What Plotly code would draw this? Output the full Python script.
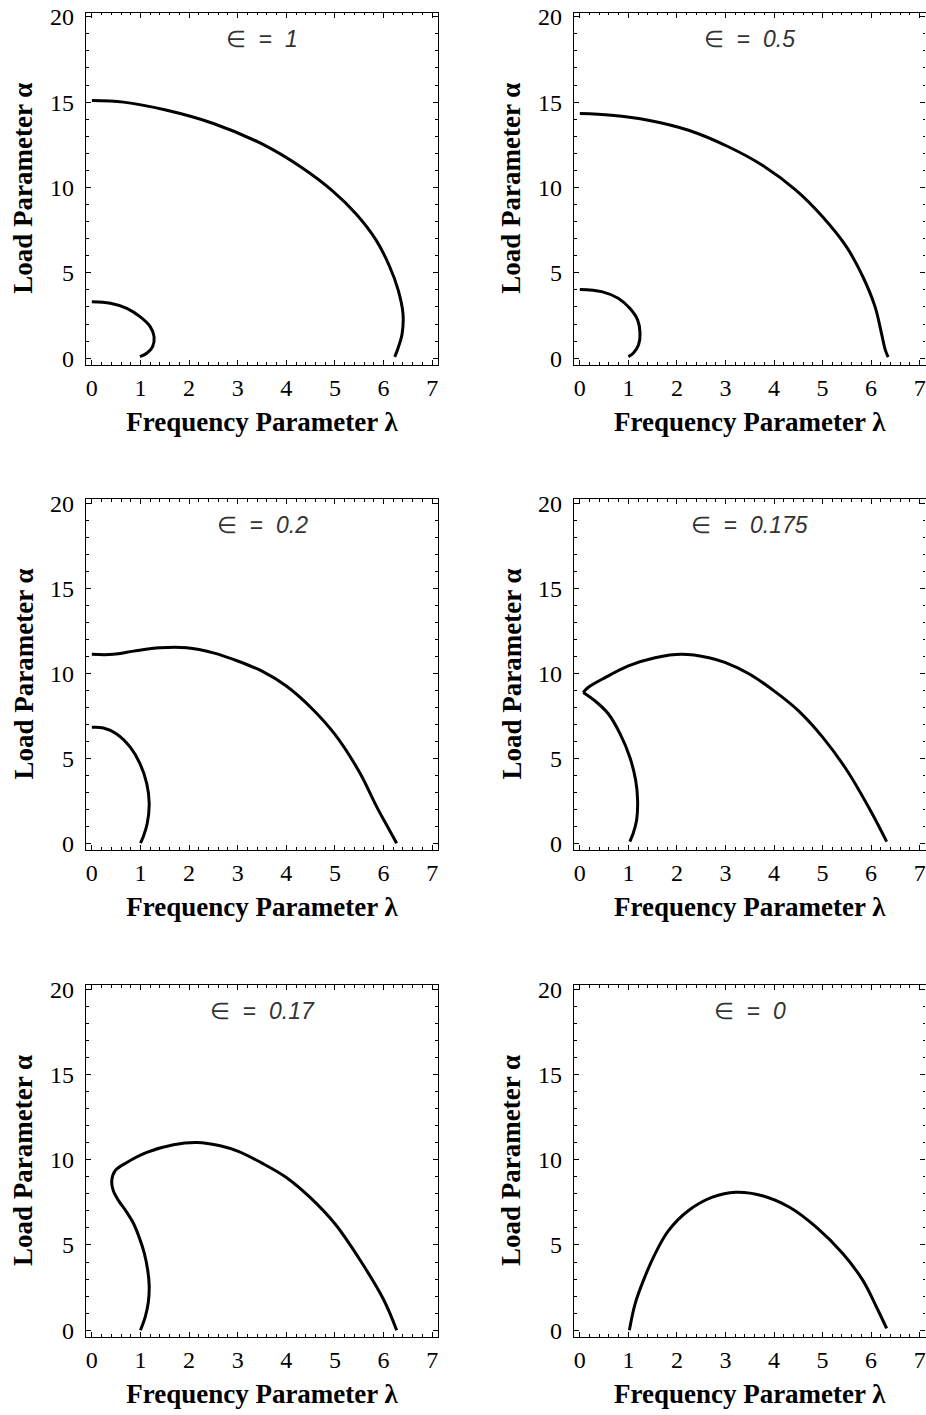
import plotly.graph_objects as go

W, H = 926, 1415

# ---------------- data ----------------
eps_labels = ["1", "0.5", "0.2", "0.175", "0.17", "0"]

# eps = 1
e1_outer_x = [0.0, 0.65, 1.5, 2.5, 3.5, 4.3, 4.95, 5.45, 5.85, 6.12, 6.3, 6.4, 6.38, 6.3, 6.23]
e1_outer_y = [15.1, 15.0, 14.55, 13.75, 12.55, 11.2, 9.8, 8.4, 6.9, 5.4, 4.0, 2.6, 1.4, 0.6, 0.08]
e1_inner_x = [0.0, 0.38, 0.72, 0.99, 1.2, 1.28, 1.25, 1.13, 0.99]
e1_inner_y = [3.31, 3.22, 2.92, 2.43, 1.85, 1.26, 0.68, 0.29, 0.09]

# eps = 0.5
e05_outer_x = [0.0, 0.65, 1.41, 2.24, 3.07, 3.76, 4.45, 5.0, 5.49, 5.83, 6.08, 6.21, 6.29, 6.35]
e05_outer_y = [14.33, 14.23, 13.94, 13.35, 12.37, 11.3, 9.84, 8.28, 6.53, 4.77, 3.02, 1.5, 0.5, 0.06]
e05_inner_x = [0.0, 0.45, 0.79, 1.03, 1.19, 1.24, 1.21, 1.1, 1.0]
e05_inner_y = [4.03, 3.9, 3.51, 2.92, 2.24, 1.46, 0.78, 0.29, 0.09]

# eps = 0.2
e02_outer_x = [0.0, 0.44, 0.86, 1.4, 1.95, 2.5, 3.0, 3.5, 4.0, 4.5, 5.0, 5.5, 5.86, 6.1, 6.27]
e02_outer_y = [11.11, 11.11, 11.3, 11.5, 11.5, 11.2, 10.72, 10.12, 9.25, 8.0, 6.4, 4.2, 2.14, 0.88, 0.0]
e02_inner_x = [0.0, 0.24, 0.51, 0.79, 0.99, 1.13, 1.18, 1.14, 1.06, 1.0]
e02_inner_y = [6.82, 6.78, 6.43, 5.65, 4.68, 3.51, 2.34, 1.17, 0.39, 0.0]

# eps = 0.175 (two branches meeting in a cusp)
e0175_low_x = [0.07, 0.31, 0.59, 0.83, 1.03, 1.15, 1.19, 1.17, 1.1, 1.03]
e0175_low_y = [8.87, 8.38, 7.6, 6.43, 5.06, 3.7, 2.53, 1.36, 0.58, 0.09]
e0175_up_x = [0.07, 0.17, 0.52, 1.0, 1.55, 2.1, 2.66, 3.0, 3.5, 4.0, 4.5, 5.0, 5.5, 6.0, 6.32]
e0175_up_y = [8.87, 9.16, 9.74, 10.43, 10.91, 11.11, 10.91, 10.62, 9.94, 8.96, 7.8, 6.24, 4.29, 1.85, 0.09]

# eps = 0.17
e017_x = [1.0, 1.1, 1.16, 1.18, 1.15, 1.08, 0.98, 0.85, 0.7, 0.55, 0.44, 0.41,
          0.48, 0.72, 1.13, 1.68, 2.16, 2.64, 3.0, 3.5, 4.0, 4.5, 5.0, 5.5, 6.0, 6.27]
e017_y = [0.0, 0.8, 1.6, 2.6, 3.5, 4.5, 5.4, 6.3, 7.0, 7.6, 8.19, 8.77,
          9.36, 9.84, 10.43, 10.88, 11.01, 10.82, 10.5, 9.8, 8.96, 7.76, 6.24, 4.19, 1.8, 0.0]

# eps = 0
e0_x = [1.02, 1.14, 1.31, 1.55, 1.83, 2.24, 2.73, 3.21, 3.76, 4.32, 4.87, 5.42, 5.83, 6.11, 6.32]
e0_y = [0.0, 1.56, 2.92, 4.48, 5.85, 7.02, 7.8, 8.09, 7.89, 7.21, 6.04, 4.48, 2.92, 1.36, 0.1]

x_ticks = [0, 1, 2, 3, 4, 5, 6, 7]
y_ticks = [0, 5, 10, 15, 20]

panels = [
    [(e1_outer_x, e1_outer_y), (e1_inner_x, e1_inner_y)],
    [(e05_outer_x, e05_outer_y), (e05_inner_x, e05_inner_y)],
    [(e02_outer_x, e02_outer_y), (e02_inner_x, e02_inner_y)],
    [(e0175_low_x, e0175_low_y), (e0175_up_x, e0175_up_y)],
    [(e017_x, e017_y)],
    [(e0_x, e0_y)],
]

# ---------------- layout geometry (pixels) ----------------
col_px = [(86, 438), (574, 925.5)]
row_px = [(12.5, 365), (499, 850), (985, 1337)]
ytitle_px = [23, 511]

serif = "Liberation Serif"
tickfont = dict(family=serif, size=24, color="black")
titlefont = dict(family=serif, size=27, color="black")

fig = go.Figure()
layout = {}

for i, branches in enumerate(panels):
    r, c = divmod(i, 2)
    n = "" if i == 0 else str(i + 1)
    xa, ya = "x" + n, "y" + n
    for bx, by in branches:
        fig.add_trace(go.Scatter(x=bx, y=by, mode="lines", xaxis=xa, yaxis=ya,
                                 line=dict(color="black", width=3, shape="spline", smoothing=1.0),
                                 showlegend=False, hoverinfo="skip"))
    x0, x1 = col_px[c]
    t, b = row_px[r]
    common = dict(showline=True, linecolor="black", linewidth=1.3, mirror="allticks",
                  ticks="inside", tickcolor="black", tickwidth=1.2, ticklen=5,
                  showgrid=False, zeroline=False, automargin=False,
                  tickfont=tickfont)
    layout["xaxis" + n] = dict(
        domain=[x0 / W, x1 / W], anchor=ya, range=[-0.12, 7.12],
        tickvals=x_ticks, ticktext=[str(v) for v in x_ticks],
        ticklabelstandoff=1,
        minor=dict(dtick=0.2, tick0=0, ticks="inside", ticklen=2.5, tickcolor="black", tickwidth=1),
        title=dict(text="<b>Frequency Parameter λ</b>", standoff=12, font=titlefont),
        **common)
    layout["yaxis" + n] = dict(
        domain=[1 - b / H, 1 - t / H], anchor=xa, range=[-0.4, 20.25],
        tickvals=y_ticks, ticktext=[str(v) for v in y_ticks],
        ticklabelstandoff=6,
        minor=dict(dtick=1, tick0=0, ticks="inside", ticklen=2.5, tickcolor="black", tickwidth=1),
        **common)
    # y-axis title, placed beside the plot area
    fig.add_annotation(xref="paper", yref=ya + " domain", x=ytitle_px[c] / W, y=0.5,
                       text="<b>Load Parameter α</b>", textangle=-90, showarrow=False,
                       font=titlefont, xanchor="center", yanchor="middle")
    # panel label
    fig.add_annotation(xref=xa + " domain", yref=ya, x=0.5, y=18.7,
                       text="∈ &nbsp;= &nbsp;<i>" + eps_labels[i] + "</i>", showarrow=False,
                       font=dict(family="Liberation Sans", size=23, color="#333"),
                       xanchor="center", yanchor="middle")

fig.update_layout(template="none", width=W, height=H, margin=dict(l=0, r=0, t=0, b=0, autoexpand=False),
                  paper_bgcolor="white", plot_bgcolor="white", **layout)
fig.update_xaxes(tickfont=tickfont)
fig.update_yaxes(tickfont=tickfont)

fig.write_html("out.html", config={"displayModeBar": False},
               post_script="document.body.style.margin='0';")
